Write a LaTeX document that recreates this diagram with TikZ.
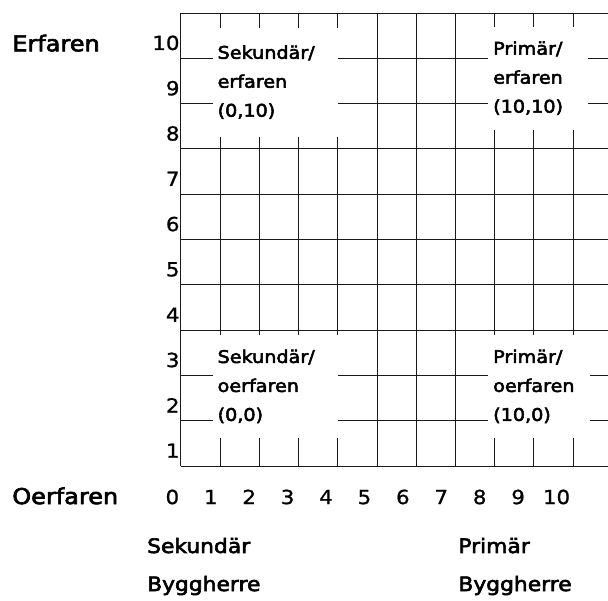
\documentclass[tikz,border=0pt]{standalone}
\usepackage{fontspec}
\usetikzlibrary{positioning}
\newfontfamily\comicfont[FakeStretch=1.1, FakeBold=3]{DejaVu Sans}
\newfontfamily\digitfont[FakeStretch=1.1, FakeBold=1]{DejaVu Sans}

\tikzset{
  gridline/.style={line width=0.7pt, black!90},
  axislabel/.style={inner sep=0pt, anchor=base west, font=\comicfont\fontsize{15.5}{18}\selectfont},
  ownerlabel/.style={inner sep=0pt, anchor=base west, font=\comicfont\fontsize{14.1}{17}\selectfont},
  tickdigit/.style={inner sep=0pt, font=\digitfont\fontsize{13.8}{16}\selectfont},
  quadrant/.style={fill=white, inner xsep=0.125cm, inner ysep=0pt, align=left,
    anchor=south west, font=\comicfont\fontsize{12.4}{20.6}\selectfont}
}

\begin{document}
\begin{tikzpicture}[x=0.98cm, y=1.1325cm]
    \useasboundingbox (-4.617,-2.958) rectangle (10.893,10.287);

    % Draw the grid, open to the right
    \foreach \j in {0,...,10}
        \draw[gridline] (0,\j) -- (10.9,\j);
    \foreach \i in {0,...,10}
        \draw[gridline] (\i,0) -- (\i,10);

    % Quadrant labels on white boxes
    \node[quadrant, text width=2.886cm, minimum height=2.73cm] (sekerf) at (0.8,7.26) {Sekundär/\\erfaren\\(0,10)};
    \node[quadrant, text width=2.249cm, minimum height=2.571cm] (primerf) at (7.83,7.42) {Primär/\\erfaren\\(10,10)};
    \node[quadrant, text width=2.886cm, minimum height=2.56cm] (sekoerf) at (0.8,0.62) {Sekundär/\\oerfaren\\(0,0)};
    \node[quadrant, text width=2.298cm, minimum height=2.56cm] (primoerf) at (7.83,0.62) {Primär/\\oerfaren\\(10,0)};

    % Tick labels
    \foreach \k in {1,...,10}
        \node[tickdigit, anchor=east] (y\k) at (-0.03,\k-0.66) {\k};
    \foreach \i in {0,...,10}
        \node[tickdigit, anchor=base] (x\i) at ({\i*0.98-0.22},-0.84) {\i};

    % Axis labels
    \node[axislabel] (erfaren) at (-4.31,9.155) {Erfaren};
    \node[axislabel] (oerfaren) at (-4.31,-0.84) {Oerfaren};

    % Client labels
    \node[ownerlabel] (sekundar) at (-0.87,-1.92) {Sekundär};
    \node[ownerlabel] (sekbygg) at (-0.87,-2.76) {Byggherre};
    \node[ownerlabel] (primar) at (7.07,-1.92) {Primär};
    \node[ownerlabel] (primbygg) at (7.07,-2.76) {Byggherre};
\end{tikzpicture}
\end{document}
